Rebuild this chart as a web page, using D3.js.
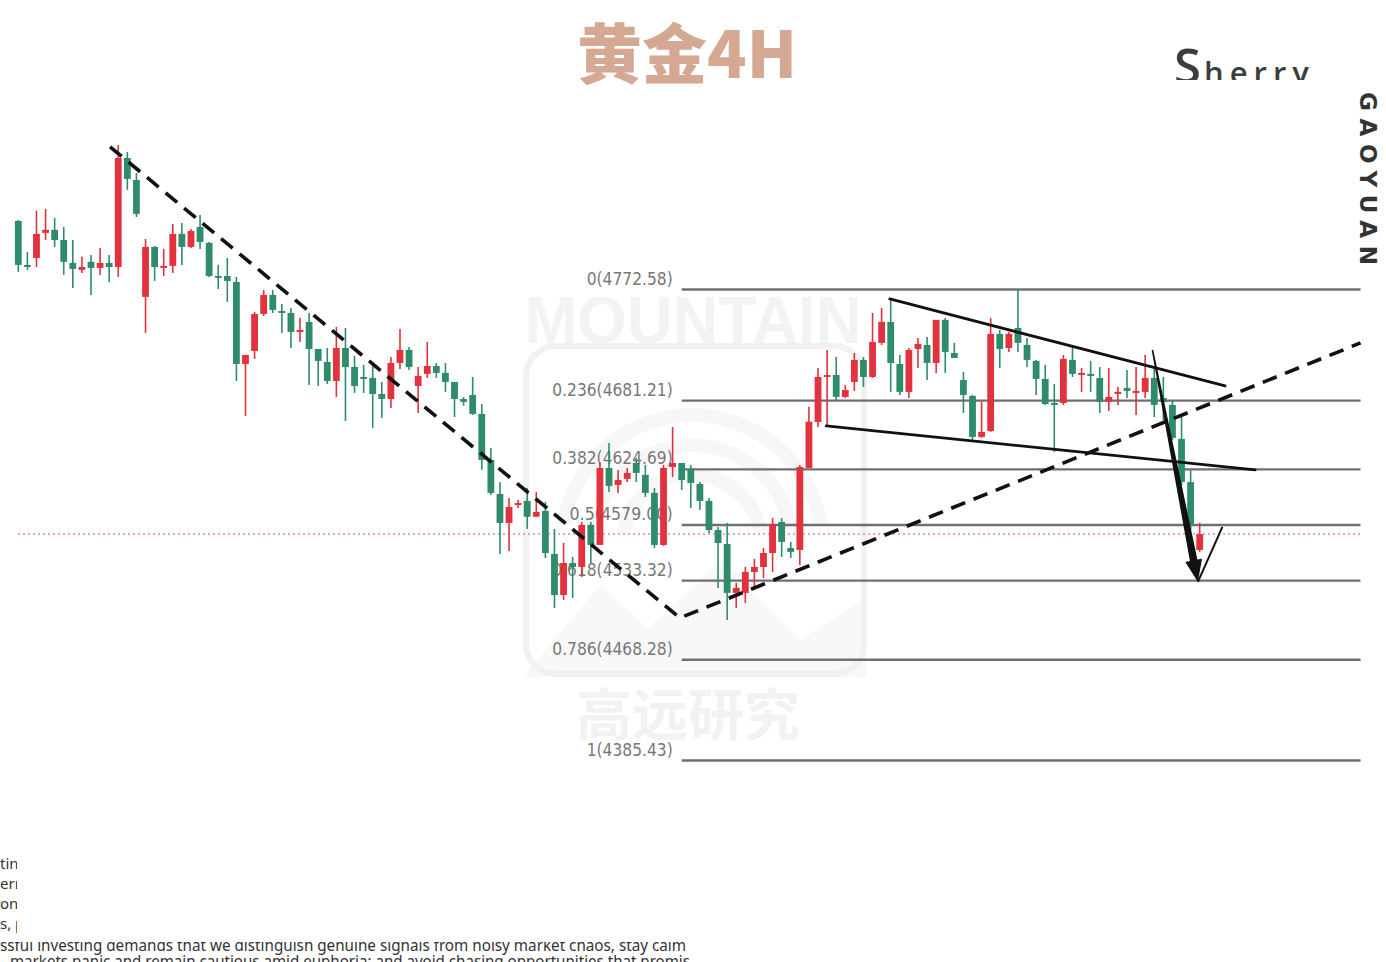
<!DOCTYPE html>
<html><head><meta charset="utf-8">
<script src="https://cdn.jsdelivr.net/npm/d3@7/dist/d3.min.js"></script>
<style>html,body{margin:0;padding:0;background:#fff;overflow:hidden}</style>
</head><body>
<svg id="c" width="1386" height="962"></svg>
<script>
// ---- data (4H gold candles) ----
const opens = [4828.9,4792.8,4798.5,4819.1,4821.6,4813.3,4794.4,4788.7,4795.3,4790.3,4794.4,4791.1,4880.7,4862.6,4766.5,4807.6,4790.3,4792.0,4818.3,4807.6,4824.0,4810.9,4783.7,4783.7,4778.8,4711.4,4722.1,4752.5,4768.1,4754.9,4753.3,4737.7,4745.9,4723.7,4713.0,4697.4,4724.5,4708.9,4700.7,4699.9,4686.7,4682.6,4712.2,4722.9,4693.3,4703.2,4709.7,4704.0,4696.6,4682.6,4685.9,4670.3,4632.5,4604.5,4580.7,4595.5,4598.8,4585.8,4590.6,4555.2,4521.5,4547.8,4544.5,4579.1,4562.6,4625.9,4611.9,4616.9,4630.0,4620.2,4605.4,4562.6,4626.7,4630.0,4625.1,4612.8,4598.8,4574.9,4563.4,4523.2,4523.2,4540.4,4544.5,4556.0,4581.5,4560.1,4558.5,4625.9,4663.7,4701.5,4702.3,4684.3,4696.6,4714.7,4700.7,4728.7,4745.9,4711.4,4688.4,4723.7,4727.0,4712.2,4747.6,4720.4,4698.2,4685.1,4651.4,4656.3,4736.1,4724.5,4741.0,4727.0,4713.9,4699.1,4679.3,4679.3,4714.7,4703.2,4703.2,4699.9,4680.2,4686.7,4691.7,4688.4,4688.4,4699.9,4683.4,4677.7,4649.8,4614.4,4558.5];
const highs = [4829.7,4803.5,4837.2,4838.8,4831.4,4824.0,4813.3,4799.4,4801.0,4806.7,4801.0,4891.4,4885.7,4868.4,4814.1,4808.4,4805.9,4826.5,4827.3,4822.4,4833.9,4811.7,4792.8,4798.5,4782.9,4718.8,4754.1,4772.2,4772.2,4760.7,4757.4,4749.2,4753.3,4723.7,4724.5,4741.8,4741.0,4717.9,4710.6,4710.6,4696.6,4717.1,4740.2,4725.4,4708.9,4729.5,4712.2,4712.2,4696.6,4684.3,4700.7,4678.5,4642.3,4614.4,4601.2,4599.6,4609.5,4606.2,4598.0,4575.8,4564.2,4552.7,4581.5,4581.5,4630.8,4646.5,4624.3,4625.9,4634.1,4628.4,4609.5,4628.4,4659.6,4630.0,4628.4,4614.4,4601.2,4577.4,4580.7,4531.4,4544.5,4551.1,4560.1,4584.8,4584.8,4565.1,4628.4,4676.2,4708.1,4722.9,4717.1,4694.1,4720.4,4717.1,4753.3,4757.4,4764.8,4718.8,4724.5,4732.8,4733.6,4747.6,4749.2,4728.7,4704.8,4685.9,4680.2,4749.2,4739.3,4737.7,4772.2,4732.8,4714.7,4710.6,4694.9,4718.8,4725.4,4708.1,4713.9,4708.9,4708.1,4692.5,4706.5,4708.9,4718.8,4708.1,4700.7,4681.8,4667.8,4624.3,4580.7];
const lows = [4787.0,4788.7,4791.1,4813.3,4807.6,4784.6,4773.8,4786.2,4768.1,4784.6,4778.8,4782.9,4854.4,4832.2,4736.9,4779.6,4783.7,4786.2,4792.8,4806.7,4805.9,4782.9,4773.0,4762.4,4697.4,4668.6,4715.5,4750.8,4753.3,4736.9,4724.5,4729.5,4694.1,4693.3,4694.9,4684.3,4664.5,4687.6,4687.6,4658.8,4667.0,4675.2,4707.3,4706.5,4671.1,4699.9,4699.9,4688.4,4667.8,4677.1,4669.5,4624.3,4603.7,4555.2,4557.7,4593.0,4575.8,4585.8,4551.9,4510.8,4517.4,4519.0,4536.3,4547.8,4562.6,4606.2,4605.4,4614.4,4614.4,4602.1,4560.1,4561.8,4618.5,4607.8,4593.0,4591.4,4572.5,4527.3,4501.0,4510.8,4514.9,4527.3,4535.5,4540.4,4552.7,4551.9,4546.2,4625.9,4659.6,4659.6,4681.8,4683.4,4689.2,4692.5,4699.9,4727.0,4688.4,4685.9,4683.4,4708.1,4698.2,4704.0,4704.0,4716.3,4671.1,4649.0,4650.6,4655.5,4708.1,4721.3,4721.3,4708.9,4685.9,4677.7,4639.1,4677.7,4700.7,4688.4,4688.4,4671.1,4672.8,4677.7,4683.4,4669.5,4683.4,4667.8,4665.3,4649.0,4611.9,4574.9,4556.9];
const closes = [4792.8,4791.1,4818.3,4821.6,4813.3,4795.3,4789.5,4791.1,4790.3,4794.4,4791.1,4880.7,4863.5,4834.7,4807.6,4791.1,4792.0,4818.3,4807.6,4820.7,4811.7,4783.7,4782.9,4779.6,4711.4,4718.8,4752.5,4768.1,4755.8,4753.3,4737.7,4739.3,4723.7,4713.9,4697.4,4724.5,4708.9,4693.3,4699.1,4686.7,4682.6,4712.2,4722.9,4708.9,4701.5,4709.7,4704.0,4696.6,4682.6,4680.2,4670.3,4632.5,4605.4,4580.7,4593.8,4597.1,4585.8,4589.7,4556.0,4521.5,4547.8,4544.5,4579.1,4562.6,4625.9,4611.1,4616.0,4621.8,4621.8,4605.4,4562.6,4625.9,4630.0,4616.0,4613.6,4598.8,4574.9,4564.2,4523.2,4527.3,4540.4,4544.5,4556.0,4579.9,4565.1,4556.9,4626.7,4663.9,4700.7,4702.3,4684.3,4690.0,4714.7,4700.7,4729.5,4745.9,4712.2,4688.4,4722.9,4727.8,4712.2,4747.6,4721.3,4716.3,4685.9,4651.4,4655.5,4736.1,4723.7,4736.1,4728.7,4714.7,4699.1,4678.5,4678.5,4715.5,4703.2,4704.0,4701.5,4680.2,4684.3,4688.4,4689.2,4689.2,4699.9,4677.7,4680.2,4650.6,4614.4,4579.1,4571.6];

// Fibonacci retracement
const fibRatios = [0, 0.236, 0.382, 0.5, 0.618, 0.786, 1];
const fibPrices = [4772.58, 4681.21, 4624.69, 4579.00, 4533.32, 4468.28, 4385.43];
const fibSpan = [73.0, 147.7];            // candle-index span of the fib lines

// drawn annotations, as [candle index, price]
const dashedV   = [[10.1, 4889.8], [72.8, 4502.6], [147.7, 4728.7]];
const wedgeTop  = [[95.9, 4764.8], [132.8, 4693.3]];
const wedgeBot  = [[88.9, 4660.4], [136.1, 4624.3]];
const arrowDown = [[124.8, 4722.9], [129.8, 4532.2]];
const arrowBack = [[129.8, 4532.2], [132.5, 4577.4]];

const titleText = "黄金4H";
const authorText = ["S", "herry"];
const sideText = "GAOYUAN";
const bottomShort = ["ting", "erm", "onal", "s, p"];
const bottomLine1 = "ssful investing demands that we distinguish genuine signals from noisy market chaos, stay calm";
const bottomLine2 = "markets panic and remain cautious amid euphoria; and avoid chasing opportunities that promis";

// ---- drawing ----
const svg = d3.select("#c");
const n = closes.length;
const x = d3.scaleLinear().domain([0, n - 1]).range([18.3, 1199.7]);
const y = d3.scaleLinear().domain([4385.43, 4772.58]).range([760.5, 289.5]);
const RED = "#e1323e", GREEN = "#2f8c6b";
const defs = svg.append("defs");

// watermark
const wm = svg.append("g").attr("class", "watermark");
wm.append("path")
  .attr("d", "M523,677 L600,585 L648,628 L722,560 L800,640 L866,598 L866,677 Z")
  .attr("fill", "#f8f8f8");
wm.append("rect").attr("x", 526).attr("y", 346).attr("width", 338).attr("height", 328)
  .attr("rx", 30).attr("fill", "none").attr("stroke", "#f1f1f1").attr("stroke-width", 6);
[70, 100, 130].forEach(r => {
  wm.append("path")
    .attr("d", d3.arc()({innerRadius: r - 7, outerRadius: r + 7, startAngle: -Math.PI * 0.45, endAngle: Math.PI * 0.45}))
    .attr("transform", "translate(692,545)").attr("fill", "#f7f7f7");
});
wm.append("text").attr("x", 693).attr("y", 343).attr("text-anchor", "middle")
  .attr("font-family", "Liberation Sans, Arial, sans-serif").attr("font-weight", 700)
  .attr("font-size", 66).attr("textLength", 337).attr("lengthAdjust", "spacingAndGlyphs")
  .attr("fill", "#f3f3f3").text("MOUNTAIN");
wm.append("text").attr("x", 688).attr("y", 735).attr("text-anchor", "middle")
  .attr("font-family", "Noto Sans CJK SC").attr("font-weight", 700)
  .attr("font-size", 56).attr("fill", "#f2f2f2").text("高远研究");

// fib lines + labels
const fib = svg.append("g");
fibPrices.forEach((p, i) => {
  fib.append("line")
    .attr("x1", x(fibSpan[0])).attr("x2", x(fibSpan[1]))
    .attr("y1", y(p)).attr("y2", y(p))
    .attr("stroke", "#6f6f78").attr("stroke-width", 2.4);
  const label = `${fibRatios[i]}(${p.toFixed(2)})`;
  fib.append("text")
    .attr("x", x(fibSpan[0]) - 9).attr("y", y(p) - 5)
    .attr("text-anchor", "end")
    .attr("font-family", "DejaVu Sans, sans-serif")
    .attr("font-size", 18).attr("fill", "#777")
    .attr("textLength", label.length * 8.6).attr("lengthAdjust", "spacingAndGlyphs")
    .text(label);
});

// current price dotted line
svg.append("line")
  .attr("x1", 18).attr("x2", x(fibSpan[1]))
  .attr("y1", y(closes[n - 1])).attr("y2", y(closes[n - 1]))
  .attr("stroke", "#e2505a").attr("stroke-width", 1.2).attr("stroke-dasharray", "2,3");

// candles
const cg = svg.append("g");
const idx = d3.range(n);
cg.selectAll("line.wick").data(idx).join("line")
  .attr("class", "wick")
  .attr("x1", i => x(i)).attr("x2", i => x(i))
  .attr("y1", i => y(highs[i])).attr("y2", i => y(lows[i]))
  .attr("stroke", i => closes[i] >= opens[i] ? RED : GREEN)
  .attr("stroke-width", 1.6);
cg.selectAll("rect.body").data(idx).join("rect")
  .attr("class", "body")
  .attr("x", i => x(i) - 3.4).attr("width", 6.8)
  .attr("y", i => y(Math.max(opens[i], closes[i])))
  .attr("height", i => Math.max(2, Math.abs(y(opens[i]) - y(closes[i]))))
  .attr("fill", i => closes[i] >= opens[i] ? RED : GREEN);

// trend annotations
const lineGen = d3.line().x(d => x(d[0])).y(d => y(d[1]));
svg.append("path").attr("d", lineGen(dashedV)).attr("fill", "none")
  .attr("stroke", "#111").attr("stroke-width", 3.6).attr("stroke-dasharray", "15,9");
[wedgeTop, wedgeBot].forEach(w => {
  svg.append("path").attr("d", lineGen(w)).attr("fill", "none")
    .attr("stroke", "#111").attr("stroke-width", 2.8).attr("stroke-linecap", "round");
});
svg.append("path").attr("d", lineGen(arrowBack)).attr("fill", "none")
  .attr("stroke", "#111").attr("stroke-width", 2);
{
  const p1 = [x(arrowDown[0][0]), y(arrowDown[0][1])];
  const tip = [x(arrowDown[1][0]), y(arrowDown[1][1])];
  const dx = tip[0] - p1[0], dy = tip[1] - p1[1], L = Math.hypot(dx, dy);
  const u = [dx / L, dy / L], nn = [-u[1], u[0]];
  const base = [tip[0] - u[0] * 22, tip[1] - u[1] * 22];
  const pt = (p, k) => [p[0] + nn[0] * k, p[1] + nn[1] * k];
  const pts = [pt(p1, 0.8), pt(base, 3.8), pt(base, 8.5), tip, pt(base, -8.5), pt(base, -3.8), pt(p1, -0.8)];
  svg.append("polygon").attr("points", pts.map(p => p.join(",")).join(" ")).attr("fill", "#111");
}

// title
svg.append("text").attr("x", 687).attr("y", 78).attr("text-anchor", "middle")
  .attr("font-family", "Noto Sans CJK SC").attr("font-weight", 900)
  .attr("font-size", 65).attr("fill", "#d5a893").text(titleText);

// author, clipped at bottom
defs.append("clipPath").attr("id", "clipAuthor").append("rect")
  .attr("x", 1100).attr("y", 0).attr("width", 286).attr("height", 80);
const au = svg.append("text").attr("x", 1174).attr("y", 84)
  .attr("clip-path", "url(#clipAuthor)")
  .attr("font-family", "Open Sans, sans-serif").attr("font-weight", 600).attr("fill", "#3d3d3d");
au.append("tspan").attr("font-size", 49).text(authorText[0]);
au.append("tspan").attr("font-size", 31).attr("letter-spacing", 6).attr("dx", 3).text(authorText[1]);

// vertical side label
svg.append("text").attr("transform", "translate(1360,92) rotate(90)")
  .attr("font-family", "DejaVu Sans, sans-serif").attr("font-weight", 700)
  .attr("font-size", 23).attr("fill", "#333")
  .attr("textLength", 173).attr("lengthAdjust", "spacing").text(sideText);

// bottom text fragments
defs.append("clipPath").attr("id", "clipShort").append("rect")
  .attr("x", 0).attr("y", 840).attr("width", 17).attr("height", 100);
defs.append("clipPath").attr("id", "clipLine1").append("rect")
  .attr("x", 0).attr("y", 942).attr("width", 800).attr("height", 30);
const bt = svg.append("g").attr("font-family", "Noto Sans, sans-serif").attr("fill", "#333");
bottomShort.forEach((t, i) => {
  bt.append("text").attr("x", 0).attr("y", 869 + i * 20).attr("font-size", 15)
    .attr("clip-path", "url(#clipShort)").text(t);
});
bt.append("text").attr("x", 0).attr("y", 951).attr("font-size", 15.5)
  .attr("clip-path", "url(#clipLine1)")
  .attr("textLength", 686).attr("lengthAdjust", "spacingAndGlyphs").text(bottomLine1);
bt.append("text").attr("x", 10).attr("y", 967).attr("font-size", 15.5)
  .attr("textLength", 680).attr("lengthAdjust", "spacingAndGlyphs").text(bottomLine2);
</script>
</body></html>
